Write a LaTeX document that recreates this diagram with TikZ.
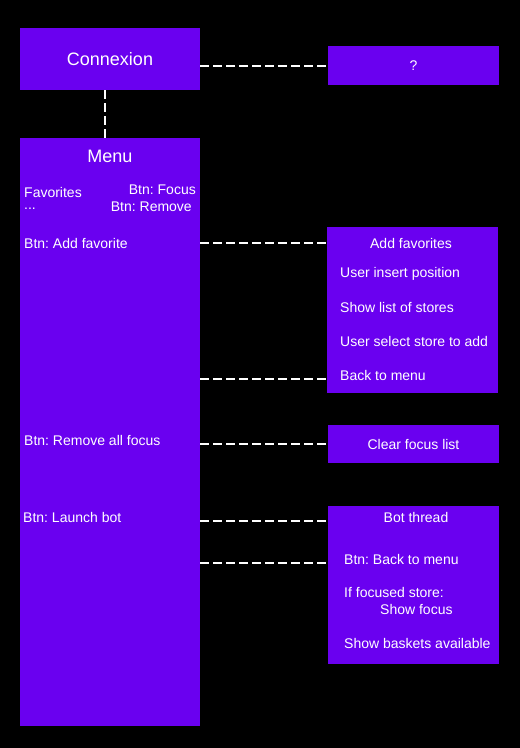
\documentclass[tikz,border=0pt]{standalone}
\usepackage{fontspec}
\setmainfont{Liberation Sans}
\frenchspacing
\definecolor{boxpurple}{HTML}{6A00F0}
\tikzset{
  box/.style={fill=boxpurple, draw=none, inner sep=0pt, text=white},
  txt/.style={text=white, inner sep=0pt, anchor=west},
  link/.style={draw=white, line width=2pt, dash pattern=on 9pt off 4pt, line cap=butt}
}
\begin{document}
\begin{tikzpicture}[x=1pt,y=-1pt, font=\fontsize{14}{16}\selectfont, line join=round]
    \fill[black] (0,0) rectangle (520,748);
    % left column
    \node[box, minimum width=180, minimum height=62, font=\fontsize{18}{20}\selectfont] (conn) at (110,59) {Connexion};
    \node[box, minimum width=180, minimum height=588] (menu) at (110,432) {};
    \node[text=white, font=\fontsize{18}{20}\selectfont] (menutitle) at (110,156) {Menu};
    \node[txt] (fav) at (24,192) {Favorites};
    \node[txt] (dots) at (24,209) {...};
    \node[txt, anchor=east] (focus) at (196,190) {Btn: Focus};
    \node[txt, anchor=east] (remove) at (192,207) {Btn: Remove};
    \node[txt] (addbtn) at (24,243) {Btn: Add favorite};
    \node[txt] (rmall) at (24,440) {Btn: Remove all focus};
    \node[txt] (launch) at (23,517) {Btn: Launch bot};
    % right column
    \node[box, minimum width=171, minimum height=39] (qm) at (413.5,65.5) {?};
    \node[box, minimum width=171, minimum height=166] (addfav) at (412.5,310) {};
    \node[text=white] (addtitle) at (411,243) {Add favorites};
    \node[txt] (insert) at (340,274) {User insert position};
    \node[txt] (stores) at (340,307) {Show list of stores};
    \node[txt] (select) at (340,341) {User select store to add};
    \node[txt] (back) at (340,375) {Back to menu};
    \node[box, minimum width=171, minimum height=38] (clear) at (413.5,444) {Clear focus list};
    \node[box, minimum width=171, minimum height=158] (bot) at (413.5,585) {};
    \node[text=white] (bottitle) at (416,517) {Bot thread};
    \node[txt] (botback) at (344,559) {Btn: Back to menu};
    \node[txt] (iffoc) at (344,592) {If focused store:};
    \node[txt] (showfoc) at (380,609) {Show focus};
    \node[txt] (baskets) at (344,643) {Show baskets available};
    % connectors
    \coordinate (y1) at (0,379); \coordinate (y2) at (0,521); \coordinate (y3) at (0,563);
    \draw[link] ([xshift=-5]conn.south) -- ([xshift=-5]menu.north);
    \draw[link] (conn.east |- qm.west) -- (qm.west);
    \draw[link] (menu.east |- addtitle) -- (addfav.west |- addtitle);
    \draw[link] (menu.east |- y1) -- (addfav.west |- y1);
    \draw[link] (menu.east |- clear.west) -- (clear.west);
    \draw[link] (menu.east |- y2) -- (bot.west |- y2);
    \draw[link] (menu.east |- y3) -- (bot.west |- y3);
\end{tikzpicture}
\end{document}
